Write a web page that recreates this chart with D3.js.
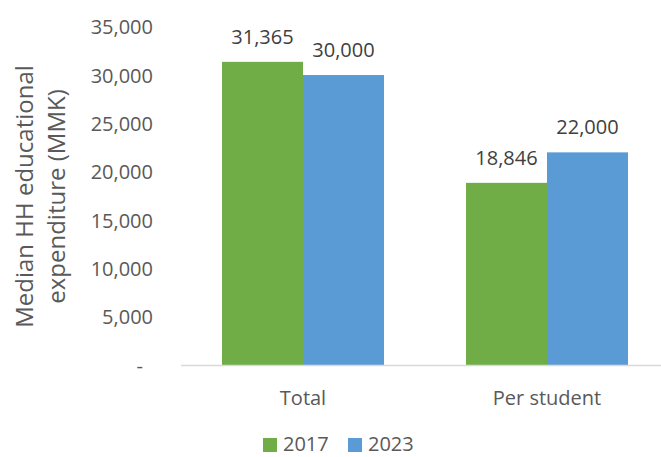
<!DOCTYPE html>
<html>
<head>
<meta charset="utf-8">
<script src="https://cdn.jsdelivr.net/npm/d3@7"></script>
<style>
  html, body { margin: 0; padding: 0; background: #ffffff; }
  svg { display: block; font-family: "Open Sans", "Noto Sans", sans-serif; }
</style>
</head>
<body>
<svg id="chart" width="661" height="457"></svg>
<script>
// Median household educational expenditure, MMK
const categories = ["Total", "Per student"];
const seriesNames = ["2017", "2023"];
const values2017 = [31365, 18846];
const values2023 = [30000, 22000];
const yTicks = [0, 5000, 10000, 15000, 20000, 25000, 30000, 35000];
const yTitleLines = ["Median HH educational", "expenditure (MMK)"];
const colors = ["#70AD47", "#5B9BD5"];

const seriesValues = [values2017, values2023];
const rows = categories.map((c, i) => ({
  category: c,
  bars: seriesNames.map((s, j) => ({ series: s, value: seriesValues[j][i], color: colors[j] }))
}));

const svg = d3.select("#chart");
const plot = { left: 181, right: 669, top: 26.7, bottom: 365 };

const x = d3.scaleBand()
  .domain(categories)
  .range([plot.left, plot.right])
  .paddingInner(82 / 244)
  .paddingOuter(41 / 244);

const xInner = d3.scaleBand()
  .domain(seriesNames)
  .range([0, x.bandwidth()]);

const y = d3.scaleLinear()
  .domain([0, 35000])
  .range([plot.bottom, plot.top]);

const fmt = d3.format(",");
const textColor = "#595959";

// Y axis labels (no axis line, no tick marks)
const yAxis = svg.append("g")
  .attr("transform", `translate(153,0)`)
  .call(d3.axisLeft(y).tickValues(yTicks).tickSize(0).tickPadding(0)
    .tickFormat(d => d === 0 ? "-" : fmt(d)));
yAxis.select(".domain").remove();
yAxis.selectAll("text")
  .attr("fill", textColor)
  .attr("font-size", 20)
  .attr("font-family", "'Open Sans', sans-serif")
  .attr("dy", "0.35em")
  .attr("x", d => d === 0 ? -10 : 0);

// Y axis title, two lines rotated
const yTitle = svg.append("text")
  .attr("transform", "translate(0,196.5) rotate(-90)")
  .attr("text-anchor", "middle")
  .attr("fill", textColor)
  .attr("font-size", 24);
yTitle.selectAll("tspan")
  .data(yTitleLines)
  .join("tspan")
  .attr("x", 0)
  .attr("y", (d, i) => 33 + i * 32)
  .text(d => d);

// Bars
const groups = svg.append("g")
  .selectAll("g")
  .data(rows)
  .join("g")
  .attr("transform", d => `translate(${x(d.category)},0)`);

groups.selectAll("rect")
  .data(d => d.bars)
  .join("rect")
  .attr("x", d => xInner(d.series))
  .attr("y", d => y(d.value))
  .attr("width", xInner.bandwidth())
  .attr("height", d => y(0) - y(d.value))
  .attr("fill", d => d.color);

// Value labels above bars
groups.selectAll("text.value")
  .data(d => d.bars)
  .join("text")
  .attr("class", "value")
  .attr("x", d => xInner(d.series) + xInner.bandwidth() / 2)
  .attr("y", d => y(d.value) - 18)
  .attr("text-anchor", "middle")
  .attr("fill", "#404040")
  .attr("font-size", 20)
  .text(d => fmt(d.value));

// Category axis baseline
svg.append("line")
  .attr("x1", plot.left)
  .attr("x2", 661)
  .attr("y1", y(0) + 0.5)
  .attr("y2", y(0) + 0.5)
  .attr("stroke", "#d9d9d9")
  .attr("stroke-width", 1.5);

// Category labels
const xAxis = svg.append("g")
  .attr("transform", `translate(0,${y(0)})`)
  .call(d3.axisBottom(x).tickSize(0).tickPadding(0));
xAxis.select(".domain").remove();
xAxis.selectAll("text")
  .attr("fill", textColor)
  .attr("font-size", 20)
  .attr("font-family", "'Open Sans', sans-serif")
  .attr("dy", null)
  .attr("y", 40);

// Legend
const legendX = [263, 348];
const legend = svg.append("g")
  .selectAll("g")
  .data(seriesNames)
  .join("g")
  .attr("transform", (d, i) => `translate(${legendX[i]},438)`);
legend.append("rect")
  .attr("width", 14)
  .attr("height", 14)
  .attr("fill", (d, i) => colors[i]);
legend.append("text")
  .attr("x", 20)
  .attr("y", 13)
  .attr("fill", textColor)
  .attr("font-size", 20)
  .text(d => d);
</script>
</body>
</html>
